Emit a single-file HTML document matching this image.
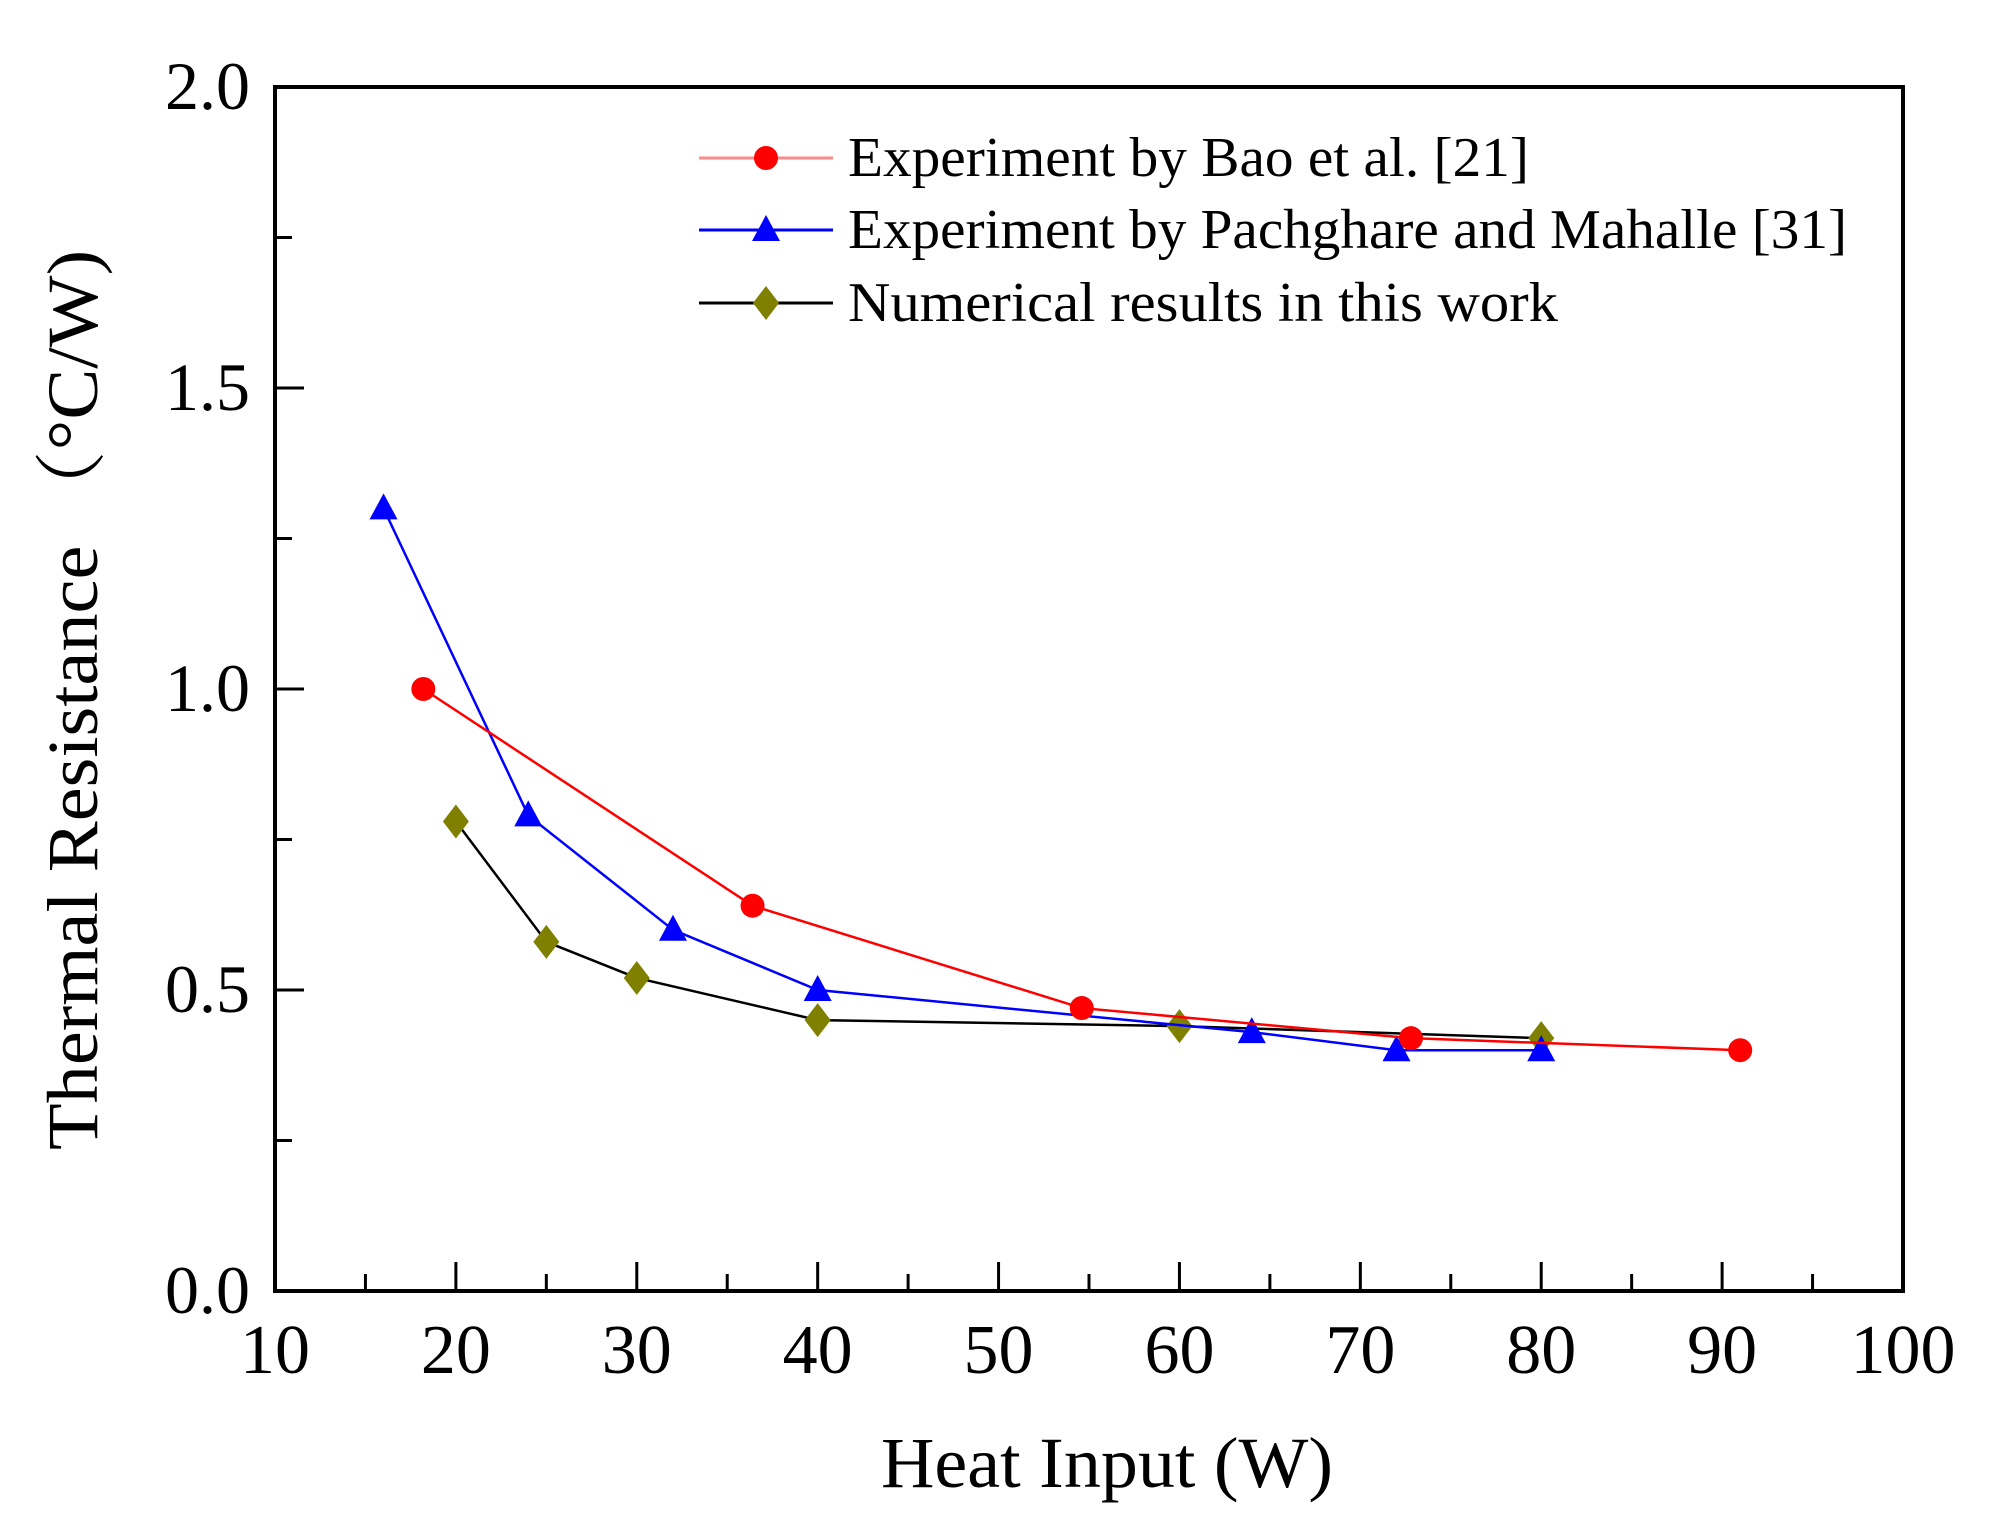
<!DOCTYPE html>
<html><head><meta charset="utf-8">
<style>
html,body{margin:0;padding:0;background:#fff;}
svg{display:block;}
text{font-family:"Liberation Serif","Noto Serif CJK SC",serif;fill:#000;}
</style></head>
<body>
<svg id="chart" width="2002" height="1528" viewBox="0 0 2002 1528" xmlns="http://www.w3.org/2000/svg">
<g id="axes"></g>
<g id="series"></g>
<g id="legend"></g>
<text transform="translate(97,1150) rotate(-90)" font-size="72" textLength="900" lengthAdjust="spacingAndGlyphs">Thermal Resistance （°C/W)</text>
<text x="881" y="1487" font-size="72" textLength="452" lengthAdjust="spacingAndGlyphs">Heat Input (W)</text>
</svg>
<script>
const xTicks = [10,20,30,40,50,60,70,80,90,100];
const yTicks = [0.0,0.5,1.0,1.5,2.0];
const yTickLabels = ["0.0","0.5","1.0","1.5","2.0"];
const baoX = [18.2,36.4,54.6,72.8,91];
const baoY = [1.0,0.64,0.47,0.42,0.40];
const pachX = [16,24,32,40,64,72,80];
const pachY = [1.30,0.79,0.60,0.50,0.43,0.40,0.40];
const numX = [20,25,30,40,60,80];
const numY = [0.78,0.58,0.52,0.45,0.44,0.42];
const legendLabels = ["Experiment by Bao et al. [21]","Experiment by Pachghare and Mahalle [31]","Numerical results in this work"];

const L=275,R=1903,T=87,B=1291;
const sx=v=>L+(v-10)/90*(R-L);
const sy=v=>B-v/2*(B-T);
const NS="http://www.w3.org/2000/svg";
function mk(tag,attrs,parent){const e=document.createElementNS(NS,tag);for(const k in attrs)e.setAttribute(k,attrs[k]);parent.appendChild(e);return e;}
const axes=document.getElementById('axes');
const frame=mk('rect',{x:L,y:T,width:R-L,height:B-T,fill:'none',stroke:'#000','stroke-width':4},axes);


for(let v=10;v<=100;v+=5){
  const major=v%10===0;
  const t=mk('line',{x1:sx(v),x2:sx(v),y1:B,y2:B-(major?29:17),stroke:'#000','stroke-width':3},axes);
  
  
}
xTicks.forEach(v=>{
  const t=mk('text',{x:sx(v),y:1373,'font-size':70,'text-anchor':'middle'},axes);
  t.textContent=String(v);
  
  
});
for(let k=0;k<=8;k++){
  const v=k*0.25;const major=k%2===0;
  const t=mk('line',{x1:L,x2:L+(major?29:17),y1:sy(v),y2:sy(v),stroke:'#000','stroke-width':3},axes);
  
  
}
yTicks.forEach((v,i)=>{
  const t=mk('text',{x:250,y:sy(v)+22,'font-size':68,'text-anchor':'end'},axes);
  t.textContent=yTickLabels[i];
  
  
});
const ser=document.getElementById('series');
function marker(kind,x,y,parent){
  let e;
  if(kind==='circle'){e=mk('circle',{cx:x,cy:y,r:12,fill:'#f00'},parent);}
  else if(kind==='tri'){e=mk('polygon',{points:`${x},${y-15} ${x-14},${y+11} ${x+14},${y+11}`,fill:'#00f'},parent);}
  else {e=mk('polygon',{points:`${x},${y-17} ${x+13},${y} ${x},${y+17} ${x-13},${y}`,fill:'#808000'},parent);}
  return e;
}
function drawSeries(xs,ys,color,kind,name){
  const g=mk('g',{},ser);
  
  
  const pl=mk('polyline',{points:xs.map((x,i)=>sx(x)+','+sy(ys[i])).join(' '),fill:'none',stroke:color,'stroke-width':2.5},g);
  
  
  xs.forEach((x,i)=>{
    const m=marker(kind,sx(x),sy(ys[i]),g);
    
    
  });
}
drawSeries(numX,numY,'#000','diamond','numerical-series');
drawSeries(pachX,pachY,'#00f','tri','pachghare-series');
drawSeries(baoX,baoY,'#f00','circle','bao-series');
const leg=document.getElementById('legend');
const rows=[158,230,303];
const lcol=['#f88','#00f','#000'];
const kinds=['circle','tri','diamond'];
const lens=[681,999,710];
legendLabels.forEach((lab,i)=>{
  const ln=mk('line',{x1:699,x2:833,y1:rows[i],y2:rows[i],stroke:lcol[i],'stroke-width':3},leg);
  
  
  const m=marker(kinds[i],766,rows[i],leg);
  
  
  const t=mk('text',{x:848,y:rows[i]+18,'font-size':56,textLength:lens[i],lengthAdjust:'spacingAndGlyphs'},leg);
  t.textContent=lab;
  
  
});
</script>
</body></html>
